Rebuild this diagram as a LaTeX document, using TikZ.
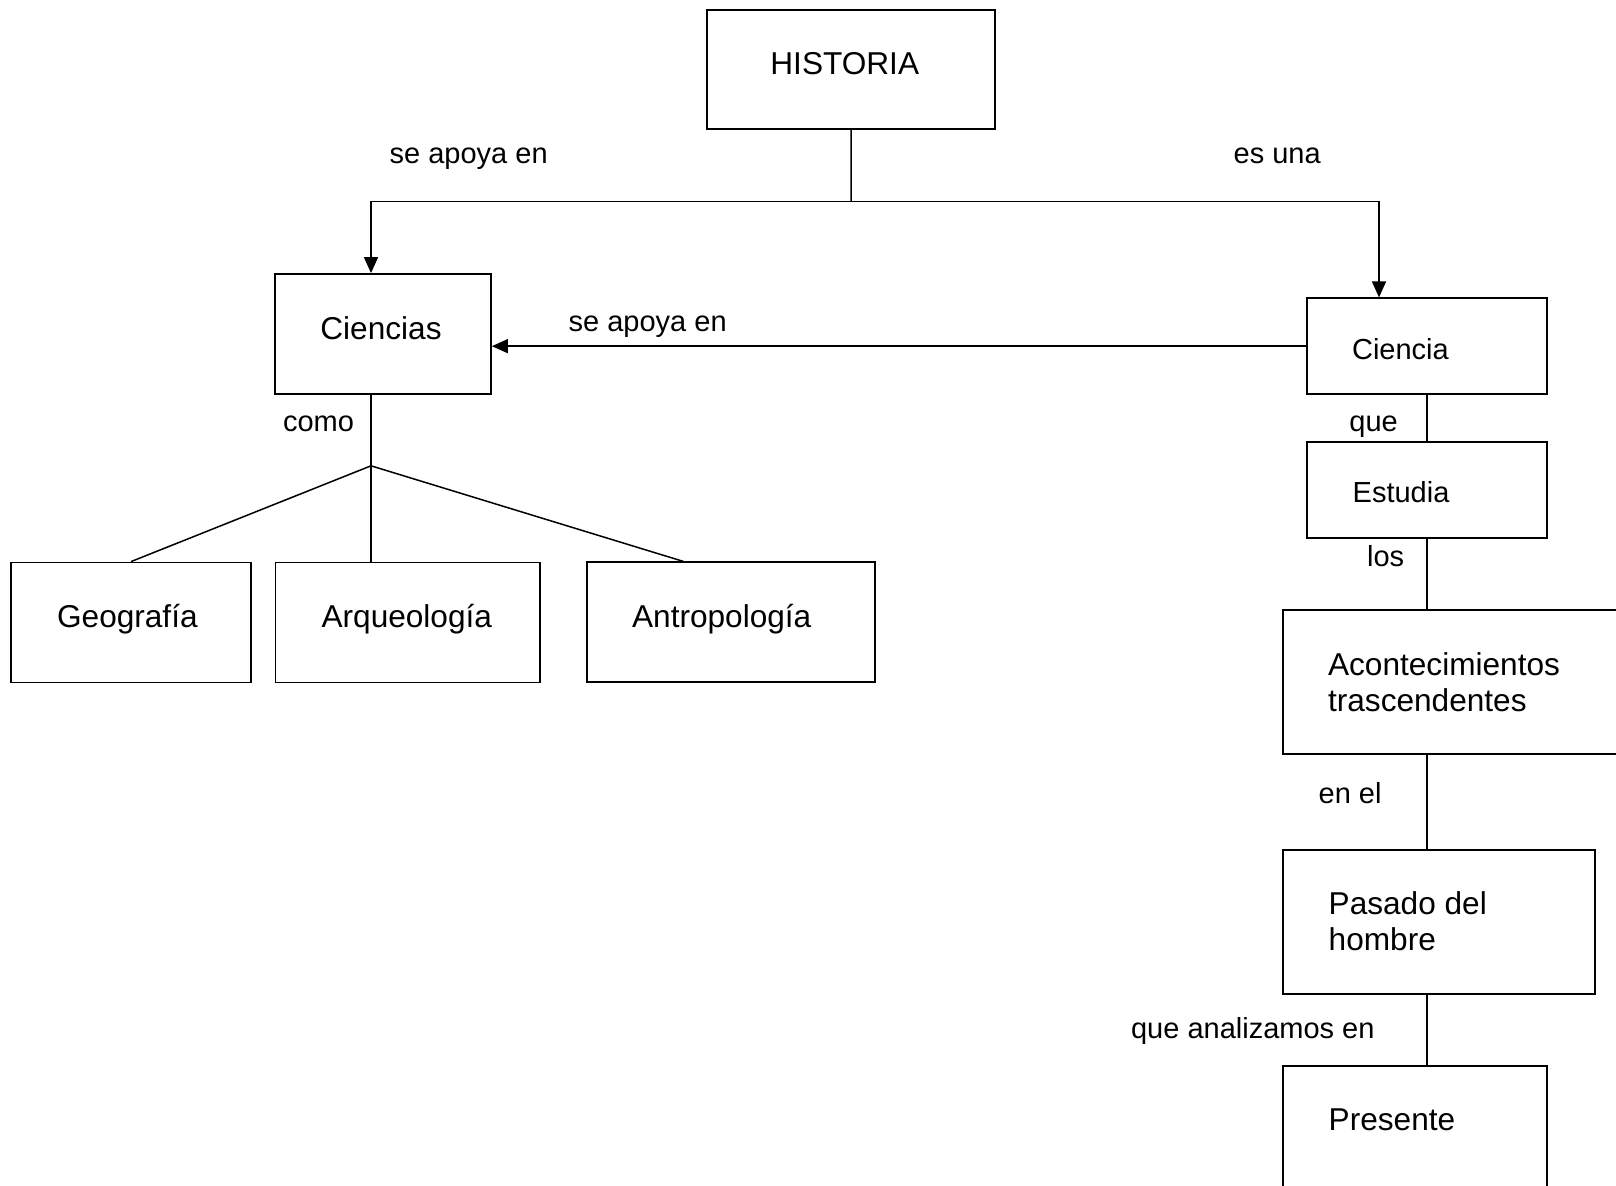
\documentclass[tikz,border=0pt]{standalone}
\usepackage{fontspec}
\setmainfont{Liberation Sans}
\usetikzlibrary{arrows.meta,fit}
\begin{document}
\begin{tikzpicture}[x=0.5pt,y=-0.5pt,
  box/.style={draw=black,line width=0.9pt,inner sep=0pt,fill=none},
  txt/.style={anchor=base west,inner sep=0pt,font=\fontsize{15.8}{18}\selectfont,align=left},
  lbl/.style={anchor=base west,inner sep=0pt,font=\fontsize{14.5}{17}\selectfont},
  conn/.style={draw=black,line width=0.75pt},
  arr/.style={conn,-{Triangle[length=8pt,width=7pt]}}]
\useasboundingbox (0,0) rectangle (1616,1185);
\clip (0,0) rectangle (1616,1185);
% boxes
\node[box,fit={(707.3,10) (995,129.3)}] (historia) {};
\node[box,fit={(275,274) (491,394)}] (ciencias) {};
\node[box,fit={(1306.7,298.3) (1547.3,394)}] (ciencia) {};
\node[box,fit={(1306.7,442.3) (1547.3,537.7)}] (estudia) {};
\node[box,fit={(11,562.5) (251,682.5)}] (geografia) {};
\node[box,fit={(275.5,562.5) (540,682.5)}] (arqueologia) {};
\node[box,fit={(586.7,562.3) (875,682.3)}] (antropologia) {};
\node[box,fit={(1282.7,609.7) (1660,753.6)}] (acontecimientos) {};
\node[box,fit={(1282.7,850) (1595,994.3)}] (pasado) {};
\node[box,fit={(1282.7,1066) (1546.7,1230)}] (presente) {};
% box texts
\node[txt] (t-historia) at (770,74) {HISTORIA};
\node[txt] (t-ciencias) at (320,339.3) {Ciencias};
\node[lbl] (t-ciencia) at (1351.7,359.3) {Ciencia};
\node[lbl] (t-estudia) at (1352.3,502.7) {Estudia};
\node[txt] (t-geografia) at (56.7,627.3) {Geografía};
\node[txt] (t-arqueologia) at (321.2,627.3) {Arqueología};
\node[txt] (t-antropologia) at (631.7,627.3) {Antropología};
\node[txt] (t-acontecimientos) at (1327.7,711.2) {Acontecimientos\\trascendentes};
\node[txt] (t-pasado) at (1328.3,950.7) {Pasado del\\hombre};
\node[txt] (t-presente) at (1328.3,1130) {Presente};
% labels
\node[lbl] (l1) at (389.3,163.3) {se apoya en};
\node[lbl] (l2) at (1233.3,163.3) {es una};
\node[lbl] (l3) at (568.3,331) {se apoya en};
\node[lbl] (l4) at (282.7,431.7) {como};
\node[lbl] (l5) at (1349,431.7) {que};
\node[lbl] (l6) at (1366.7,566.7) {los};
\node[lbl] (l7) at (1318.3,803.3) {en el};
\node[lbl] (l8) at (1130.7,1038.3) {que analizamos en};
% connectors
\coordinate (hj) at (851.2,201.7);
\coordinate (fan) at (371,465.8);
\draw[conn] (historia.south) -- (hj);
\draw[arr] (hj) -| ([xshift=-6pt]ciencias.north);
\draw[arr] (hj) -| ([xshift=-24pt]ciencia.north);
\draw[arr] (ciencia.west) -- (ciencias.east |- ciencia.west);
\draw[conn] (ciencias.south -| fan) -- (fan);
\draw[conn] (fan) -- (geografia.north);
\draw[conn] (fan) -- (arqueologia.north -| fan);
\draw[conn] (fan) -- ([xshift=-23.75pt]antropologia.north);
\draw[conn] (ciencia.south) -- (estudia.north -| ciencia.south);
\draw[conn] (estudia.south -| ciencia.south) -- (acontecimientos.north -| ciencia.south);
\draw[conn] (acontecimientos.south -| ciencia.south) -- (pasado.north -| ciencia.south);
\draw[conn] (pasado.south -| ciencia.south) -- (presente.north -| ciencia.south);
\end{tikzpicture}
\end{document}
